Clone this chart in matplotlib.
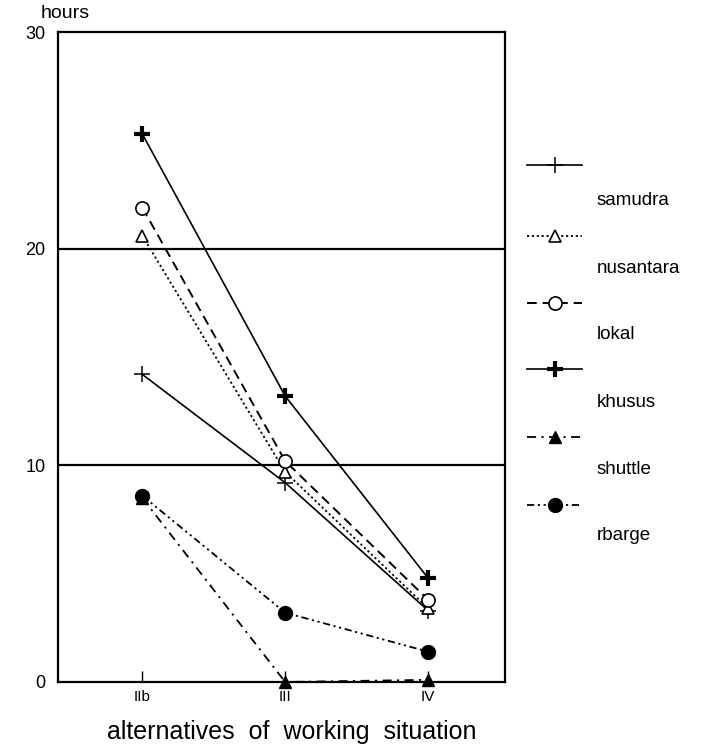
import numpy as np
import matplotlib
matplotlib.use('Agg')
import matplotlib.pyplot as plt
from matplotlib.lines import Line2D

plt.rcParams['font.family'] = ['Liberation Sans', 'DejaVu Sans']

# data
situations = ['IIb', 'III', 'IV']
samudra = [14.2, 9.2, 3.3]
nusantara = [20.6, 9.7, 3.4]
lokal = [21.9, 10.2, 3.8]
khusus = [25.3, 13.2, 4.8]
shuttle = [8.5, 0.0, 0.1]
rbarge = [8.6, 3.2, 1.4]

names = ['samudra', 'nusantara', 'lokal', 'khusus', 'shuttle', 'rbarge']
series = [samudra, nusantara, lokal, khusus, shuttle, rbarge]

# line / marker styles per series
styles = [
    dict(ls='-', lw=1.2, marker='+', ms=12, mew=1.1, mfc='none'),
    dict(ls=(0, (1.2, 1.5)), lw=1.3, marker='^', ms=8.5, mew=1.2, mfc='white'),
    dict(ls=(0, (5, 3)), lw=1.4, marker='o', ms=9.5, mew=1.2, mfc='white'),
    dict(ls='-', lw=1.2, marker='+', ms=12, mew=3.0, mfc='none'),
    dict(ls=(0, (5, 3, 1.2, 3)), lw=1.3, marker='^', ms=9, mew=1, mfc='black'),
    dict(ls=(0, (4, 2, 1.2, 2, 1.2, 2)), lw=1.3, marker='o', ms=10, mew=1, mfc='black'),
]

fig = plt.figure(figsize=(7.12, 7.53), dpi=100)
ax = fig.add_axes([0.0815, 0.0943, 0.628, 0.863])

x = np.arange(1, len(situations) + 1)
for vals, st in zip(series, styles):
    ax.plot(x, vals, color='black', zorder=3, clip_on=False, **st)

# horizontal reference lines
for yv in (10, 20):
    ax.axhline(yv, color='black', lw=1.6, zorder=2)

ax.set_xlim(0.41, 3.54)
ax.set_ylim(0, 29.8)
ax.set_xticks(x)
ax.set_xticklabels(situations, fontsize=11)
ax.set_yticks([0, 10, 20, 30])
ax.set_yticklabels(['0', '10', '20', '30'], fontsize=13)
ax.tick_params(axis='x', direction='in', length=8, width=1, pad=6)
ax.tick_params(axis='y', length=0, pad=9)
for sp in ax.spines.values():
    sp.set_linewidth(1.6)

fig.text(0.057, 0.982, 'hours', fontsize=14, ha='left', va='center')
fig.text(0.41, 0.028, 'alternatives  of  working  situation', fontsize=18,
         ha='center', va='center')

# legend drawn by hand: sample line above, label below
lax = fig.add_axes([0, 0, 1, 1])
lax.set_xlim(0, 712)
lax.set_ylim(753, 0)
lax.axis('off')
sample_y = [165, 236, 303, 369, 437, 505]
label_y = [200, 268, 334, 402, 469, 536]
for name, st, sy, ty in zip(names, styles, sample_y, label_y):
    lax.add_line(Line2D([527, 582], [sy, sy], color='black',
                        ls=st['ls'], lw=st['lw']))
    lax.plot([554.5], [sy], color='black', ls='none', marker=st['marker'],
             ms=st['ms'], mew=st['mew'], mfc=st['mfc'])
    lax.text(597, ty, name, fontsize=13.5, ha='left', va='center')

fig.savefig('out.png', dpi=100)
